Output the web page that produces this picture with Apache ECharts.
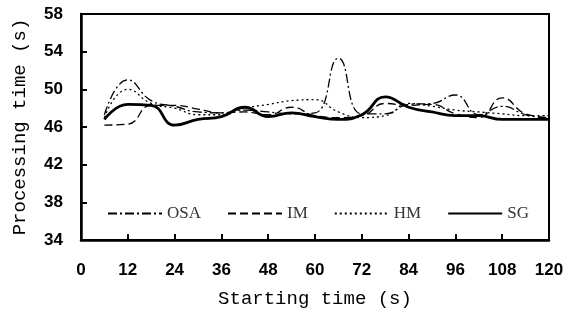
<!DOCTYPE html>
<html>
<head>
<meta charset="utf-8">
<script src="https://cdn.jsdelivr.net/npm/echarts@6/dist/echarts.min.js"></script>
<style>
  html, body { margin: 0; padding: 0; background: #fff; }
  #chart { width: 566px; height: 322px; }
</style>
</head>
<body>
<div id="chart"></div>
<script>
// starting time (s)
var startTimes = [6, 12, 18, 24, 30, 36, 42, 48, 54, 60, 66, 72, 78, 84, 90, 96, 102, 108, 114, 120];
// processing time (s) per method
var osa = [47.3, 51.0, 48.8, 48.2, 47.6, 47.5, 47.8, 47.6, 47.4, 47.5, 53.3, 47.4, 47.4, 48.4, 48.5, 49.4, 47.3, 48.2, 47.3, 46.9];
var im  = [46.2, 46.3, 48.3, 48.3, 47.9, 47.5, 47.6, 47.3, 48.1, 47.2, 47.0, 47.2, 48.5, 48.3, 48.4, 47.4, 47.0, 49.1, 47.4, 47.0];
var hm  = [47.0, 50.0, 48.5, 48.0, 47.3, 47.3, 48.0, 48.4, 48.8, 48.9, 47.6, 47.0, 47.2, 48.5, 48.2, 47.8, 47.6, 47.4, 47.2, 47.2];
var sg  = [46.8, 48.4, 48.3, 46.2, 46.8, 47.1, 48.1, 47.1, 47.5, 47.1, 46.8, 47.3, 49.2, 48.1, 47.6, 47.2, 47.2, 46.8, 46.8, 46.8];

function pairs(ys) {
  return startTimes.map(function (x, i) { return [x, ys[i]]; });
}

var myChart = echarts.init(document.getElementById('chart'));
var option = {
  animation: false,
  grid: {
    left: 81, right: 17, top: 14, bottom: 82,
    outerBoundsMode: 'none',
    show: true, borderColor: '#000', borderWidth: 2
  },
  legend: {
    bottom: 95,
    left: 102,
    itemGap: 26,
    itemWidth: 54,
    itemHeight: 10,
    itemStyle: { opacity: 0 },
    textStyle: { fontFamily: 'Liberation Serif', fontSize: 17, color: '#333' },
    data: ['OSA', 'IM', 'HM', 'SG']
  },
  xAxis: {
    type: 'value',
    min: 0, max: 120, interval: 12,
    name: 'Starting time (s)',
    nameLocation: 'middle',
    nameGap: 49,
    nameTextStyle: { fontFamily: 'Liberation Mono', fontSize: 19, color: '#000' },
    axisLine: { lineStyle: { color: '#000', width: 2.5 } },
    axisTick: { inside: true, length: 6, lineStyle: { color: '#000', width: 2 } },
    axisLabel: { margin: 22, fontFamily: 'Liberation Sans', fontWeight: 'bold', fontSize: 17, color: '#000' },
    splitLine: { show: false }
  },
  yAxis: {
    type: 'value',
    min: 34, max: 58, interval: 4,
    name: 'Processing time (s)',
    nameLocation: 'middle',
    nameGap: 52,
    nameTextStyle: { fontFamily: 'Liberation Mono', fontSize: 19, color: '#000' },
    axisLine: { show: true, lineStyle: { color: '#000', width: 2.5 } },
    axisTick: { show: true, inside: true, length: 6, lineStyle: { color: '#000', width: 2 } },
    axisLabel: { margin: 18, fontFamily: 'Liberation Sans', fontWeight: 'bold', fontSize: 17, color: '#000' },
    splitLine: { show: false }
  },
  series: [
    {
      name: 'OSA', type: 'line', smooth: true, showSymbol: false, symbol: 'none',
      data: pairs(osa),
      lineStyle: { color: '#000', width: 1.3, type: [9, 3, 2, 3] },
      itemStyle: { color: '#000' }
    },
    {
      name: 'IM', type: 'line', smooth: true, showSymbol: false, symbol: 'none',
      data: pairs(im),
      lineStyle: { color: '#000', width: 1.3, type: [8, 4] },
      itemStyle: { color: '#000' }
    },
    {
      name: 'HM', type: 'line', smooth: true, showSymbol: false, symbol: 'none',
      data: pairs(hm),
      lineStyle: { color: '#000', width: 1.3, type: [2, 3] },
      itemStyle: { color: '#000' }
    },
    {
      name: 'SG', type: 'line', smooth: true, showSymbol: false, symbol: 'none',
      data: pairs(sg),
      lineStyle: { color: '#000', width: 2.8 },
      itemStyle: { color: '#000' }
    }
  ]
};
myChart.setOption(option);
</script>
</body>
</html>
